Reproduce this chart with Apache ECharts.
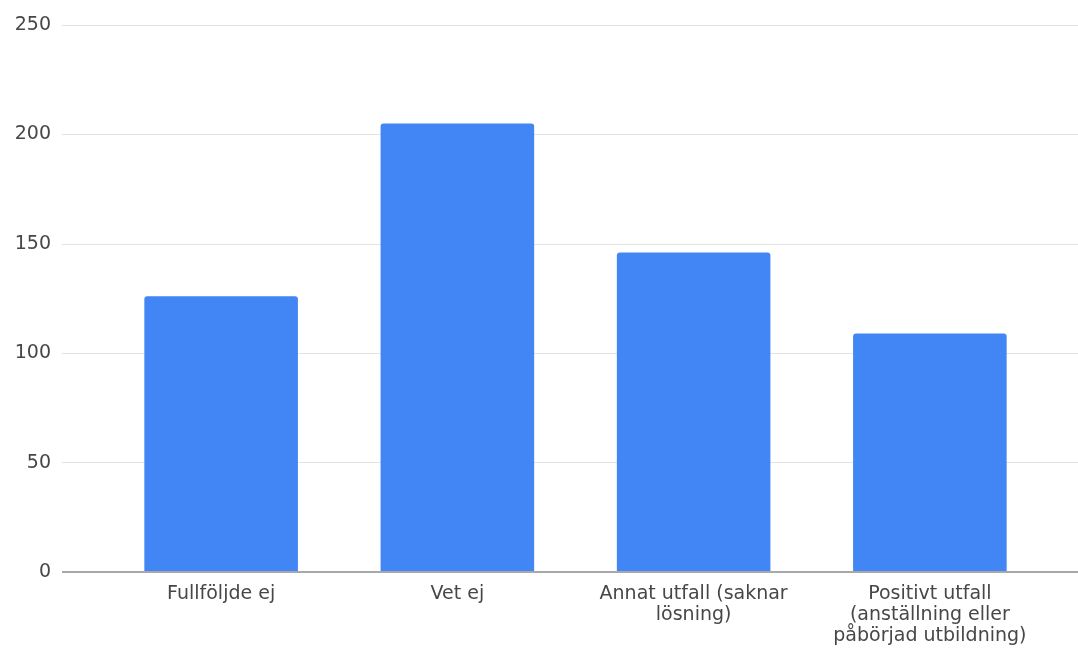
<!DOCTYPE html>
<html>
<head>
<meta charset="utf-8">
<script src="https://cdn.jsdelivr.net/npm/echarts@6/dist/echarts.min.js"></script>
<style>html,body{margin:0;padding:0;background:#fff}#c{width:1078px;height:650px}</style>
</head>
<body>
<div id="c"></div>
<script>
const categories = ["Fullföljde ej", "Vet ej", "Annat utfall (saknar lösning)", "Positivt utfall (anställning eller påbörjad utbildning)"];
const tickLabels = ["Fullföljde ej", "Vet ej", "Annat utfall (saknar\nlösning)", "Positivt utfall\n(anställning eller\npåbörjad utbildning)"];
const values = [126, 205, 146, 109];
const yMin = 0, yMax = 250, yStep = 50;

const font = "DejaVu Sans";
const chart = echarts.init(document.getElementById('c'), null, {renderer: 'canvas'});
chart.setOption({
  animation: false,
  backgroundColor: '#ffffff',
  grid: [
    {left: 103, right: 30, top: 25, bottom: 78},
    {left: 62, right: 0, top: 25, bottom: 78}
  ],
  xAxis: [
    {
      type: 'category', gridIndex: 0, data: categories,
      axisLine: {show: false}, axisTick: {show: false},
      axisLabel: {
        fontFamily: font, fontSize: 19, color: '#474747', margin: 12, lineHeight: 21,
        interval: 0, formatter: (v, i) => tickLabels[i]
      }
    },
    {
      type: 'value', gridIndex: 1, min: 0, max: 1,
      axisLine: {show: false}, axisTick: {show: false}, axisLabel: {show: false}, splitLine: {show: false}
    }
  ],
  yAxis: [
    {
      type: 'value', gridIndex: 0, min: yMin, max: yMax, interval: yStep,
      axisLine: {show: false}, axisTick: {show: false}, axisLabel: {show: false}, splitLine: {show: false}
    },
    {
      type: 'value', gridIndex: 1, min: yMin, max: yMax, interval: yStep,
      axisLine: {show: false}, axisTick: {show: false},
      axisLabel: {fontFamily: font, fontSize: 19, color: '#474747', margin: 11},
      splitLine: {show: true, lineStyle: {color: '#e3e3e3', width: 1}}
    }
  ],
  series: [
    {
      type: 'bar', xAxisIndex: 0, yAxisIndex: 0, data: values,
      barWidth: '65%',
      itemStyle: {color: '#4285F4', borderRadius: [3, 3, 0, 0]},
      z: 2
    },
    {
      type: 'line', xAxisIndex: 1, yAxisIndex: 1,
      data: [[0, 0], [1, 0]], symbol: 'none', silent: true,
      lineStyle: {color: '#a8a8a8', width: 2}, z: 3
    }
  ]
});
</script>
</body>
</html>
